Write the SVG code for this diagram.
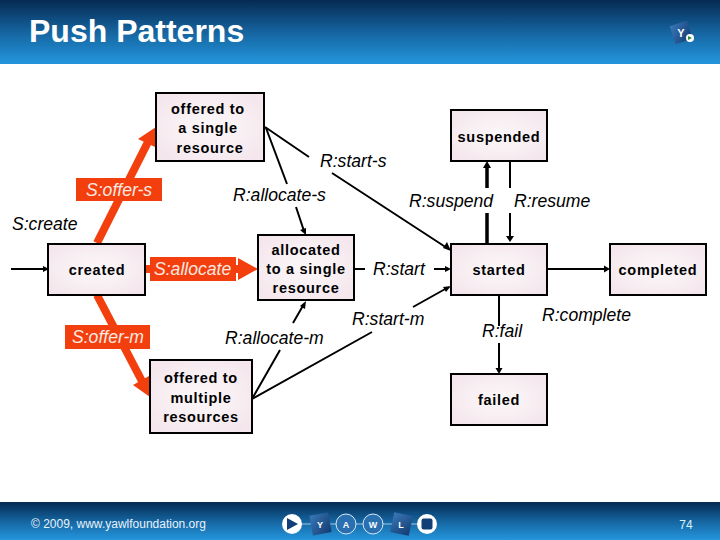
<svg xmlns="http://www.w3.org/2000/svg" width="720" height="540" viewBox="0 0 720 540">
<style>
.box{fill:url(#bx);stroke:#000;stroke-width:2}
.t{font:bold 14.5px "Liberation Sans",Arial,sans-serif;letter-spacing:.7px;fill:#000;text-anchor:middle}
.l{font:italic 17.6px "Liberation Sans",Arial,sans-serif;fill:#000}
.w{font:italic 17.6px "Liberation Sans",Arial,sans-serif;fill:#fbe9e0}
.k{stroke:#000;stroke-width:2;fill:none}
.K{stroke:#000;stroke-width:3.5;fill:none}
.r{stroke:#f33f0d;stroke-width:8;fill:none}
.rf{fill:#f33f0d}
.a{fill:#000}
.c{fill:#2a6fb0;stroke:#d5e8f5;stroke-width:1}
.lt{font:bold 9px "Liberation Sans",Arial,sans-serif;fill:#fff;text-anchor:middle}
</style>
<defs>
<linearGradient id="bar" x1="0" y1="0" x2="0" y2="1"><stop offset="0" stop-color="#052a52"/><stop offset=".5" stop-color="#15649f"/><stop offset="1" stop-color="#2496dd"/></linearGradient>
<radialGradient id="bx" cx=".5" cy=".5" r=".6"><stop offset="0" stop-color="#fbf7f9"/><stop offset=".55" stop-color="#f8eff3"/><stop offset="1" stop-color="#f4e6ec"/></radialGradient>
<linearGradient id="tile" x1="0" y1="0" x2="1" y2="1"><stop offset="0" stop-color="#3a78b8"/><stop offset="1" stop-color="#123a70"/></linearGradient>
</defs>

<g id="header">
<rect x="0" y="0" width="720" height="64" fill="url(#bar)"/>
<text x="29" y="42" style="font:bold 32px 'Liberation Sans',Arial,sans-serif;fill:#fff">Push Patterns</text>
<g id="logo-top">
<rect x="672" y="23" width="18" height="19" fill="url(#tile)" transform="rotate(-18 681 32)"/>
<text x="681" y="37" class="lt" style="font-size:11px">Y</text>
<circle cx="690" cy="38" r="4" fill="#fff"/><path d="M688 36l4 2-4 2z" fill="#2a8a3a"/>
</g>
</g>

<g id="footer">
<rect x="0" y="502" width="720" height="38" fill="url(#bar)"/>
<text x="31" y="528" style="font:12px 'Liberation Sans',Arial,sans-serif;fill:#e8f2fa">© 2009, www.yawlfoundation.org</text>
<g id="logo-bottom">
<path d="M292 524H428" stroke="#9fc6e4" stroke-width="1" fill="none"/>
<circle cx="292" cy="524" r="10" fill="#fff"/><path d="M287 518l11 6-11 6z" fill="#123f78"/>
<rect x="311" y="514" width="19" height="20" fill="url(#tile)" transform="rotate(-10 320 524)"/><text x="320" y="528" class="lt">Y</text>
<circle cx="346" cy="524" r="10" class="c"/><text x="346" y="528" class="lt">A</text>
<circle cx="373" cy="524" r="10" class="c"/><text x="373" y="528" class="lt">W</text>
<rect x="392" y="514" width="19" height="20" fill="url(#tile)" transform="rotate(12 401 524)"/><text x="401" y="528" class="lt">L</text>
<circle cx="427" cy="524" r="10" fill="#fff"/><rect x="421.500" y="518.500" width="11" height="11" rx="2" fill="#123f78"/>
</g>
<text x="686" y="529" text-anchor="middle" style="font:12px 'Liberation Sans',Arial,sans-serif;fill:#d8f0fb">74</text>
</g>

<g id="connectors">
<path class="k" d="M11 269H44"/><path class="a" d="M49 269l-6-3v6z"/>
<path class="r" d="M97 243L149 140"/><path class="rf" d="M156 127L155 147L138 139z"/>
<path class="r" d="M145 269H240"/><path class="rf" d="M258 269L238 258V280z"/>
<path class="r" d="M97 295L144 385"/><path class="rf" d="M150 397L133 385L149 376z"/>
<path class="k" d="M265 127L309 157M332 173L447 248"/><path class="a" d="M451 251L443 248L447 242z"/>
<path class="k" d="M266 128L287 184M296 207L304 231"/><path class="a" d="M306 235L300 230L306 228z"/>
<path class="k" d="M252 399L280 350M293 323L304 304"/><path class="a" d="M306 301L305 309L300 306z"/>
<path class="k" d="M252 399L372 332M413 307L447 288"/><path class="a" d="M451 286L446 292L443 287z"/>
<path class="k" d="M354 269H365M434 269H446"/><path class="a" d="M451 269L445 266V272z"/>
<path class="K" d="M487 244V213M487 188V166"/><path class="a" d="M487 161L483 168H491z"/>
<path class="k" d="M510 161V188M510 213V237"/><path class="a" d="M510 242L506 236H514z"/>
<path class="k" d="M547 269H605"/><path class="a" d="M610 269L604 265.500V272.500z"/>
<path class="k" d="M499 295V326M499 343V369"/><path class="a" d="M499 374L495.500 368H502.500z"/>
</g>

<g id="labels">
<rect class="rf" x="76" y="178" width="86" height="23"/><text class="w" x="86" y="196">S:offer-s</text>
<rect class="rf" x="150" y="257" width="86" height="24"/><text class="w" x="154" y="275">S:allocate</text>
<rect class="rf" x="65" y="325" width="85" height="24"/><text class="w" x="72" y="343">S:offer-m</text>
<text class="l" x="12" y="230">S:create</text>
<text class="l" x="320" y="167">R:start-s</text>
<text class="l" x="233" y="201">R:allocate-s</text>
<text class="l" x="409" y="207">R:suspend</text>
<text class="l" x="514" y="207">R:resume</text>
<text class="l" x="373" y="275">R:start</text>
<text class="l" x="352" y="325">R:start-m</text>
<text class="l" x="225" y="344">R:allocate-m</text>
<text class="l" x="482" y="337">R:fail</text>
<text class="l" x="542" y="321">R:complete</text>
</g>

<g id="offered-single"><rect class="box" x="156" y="93" width="108" height="68"/><text class="t" x="208" y="114">offered to</text><text class="t" x="208" y="133">a single</text><text class="t" x="210" y="153">resource</text></g>
<g id="suspended"><rect class="box" x="451" y="110" width="96" height="51"/><text class="t" x="499" y="142">suspended</text></g>
<g id="created"><rect class="box" x="48" y="244" width="97" height="51"/><text class="t" x="97" y="275">created</text></g>
<g id="allocated-single"><rect class="box" x="258" y="235" width="96" height="65"/><text class="t" x="306" y="255">allocated</text><text class="t" x="306" y="274">to a single</text><text class="t" x="306" y="293">resource</text></g>
<g id="started"><rect class="box" x="451" y="244" width="96" height="51"/><text class="t" x="499" y="275">started</text></g>
<g id="completed"><rect class="box" x="610" y="244" width="96" height="51"/><text class="t" x="658" y="275">completed</text></g>
<g id="failed"><rect class="box" x="451" y="374" width="96" height="51"/><text class="t" x="499" y="405">failed</text></g>
<g id="offered-multiple"><rect class="box" x="150" y="360" width="102" height="73"/><text class="t" x="201" y="383">offered to</text><text class="t" x="201" y="403">multiple</text><text class="t" x="201" y="422">resources</text></g>
</svg>
